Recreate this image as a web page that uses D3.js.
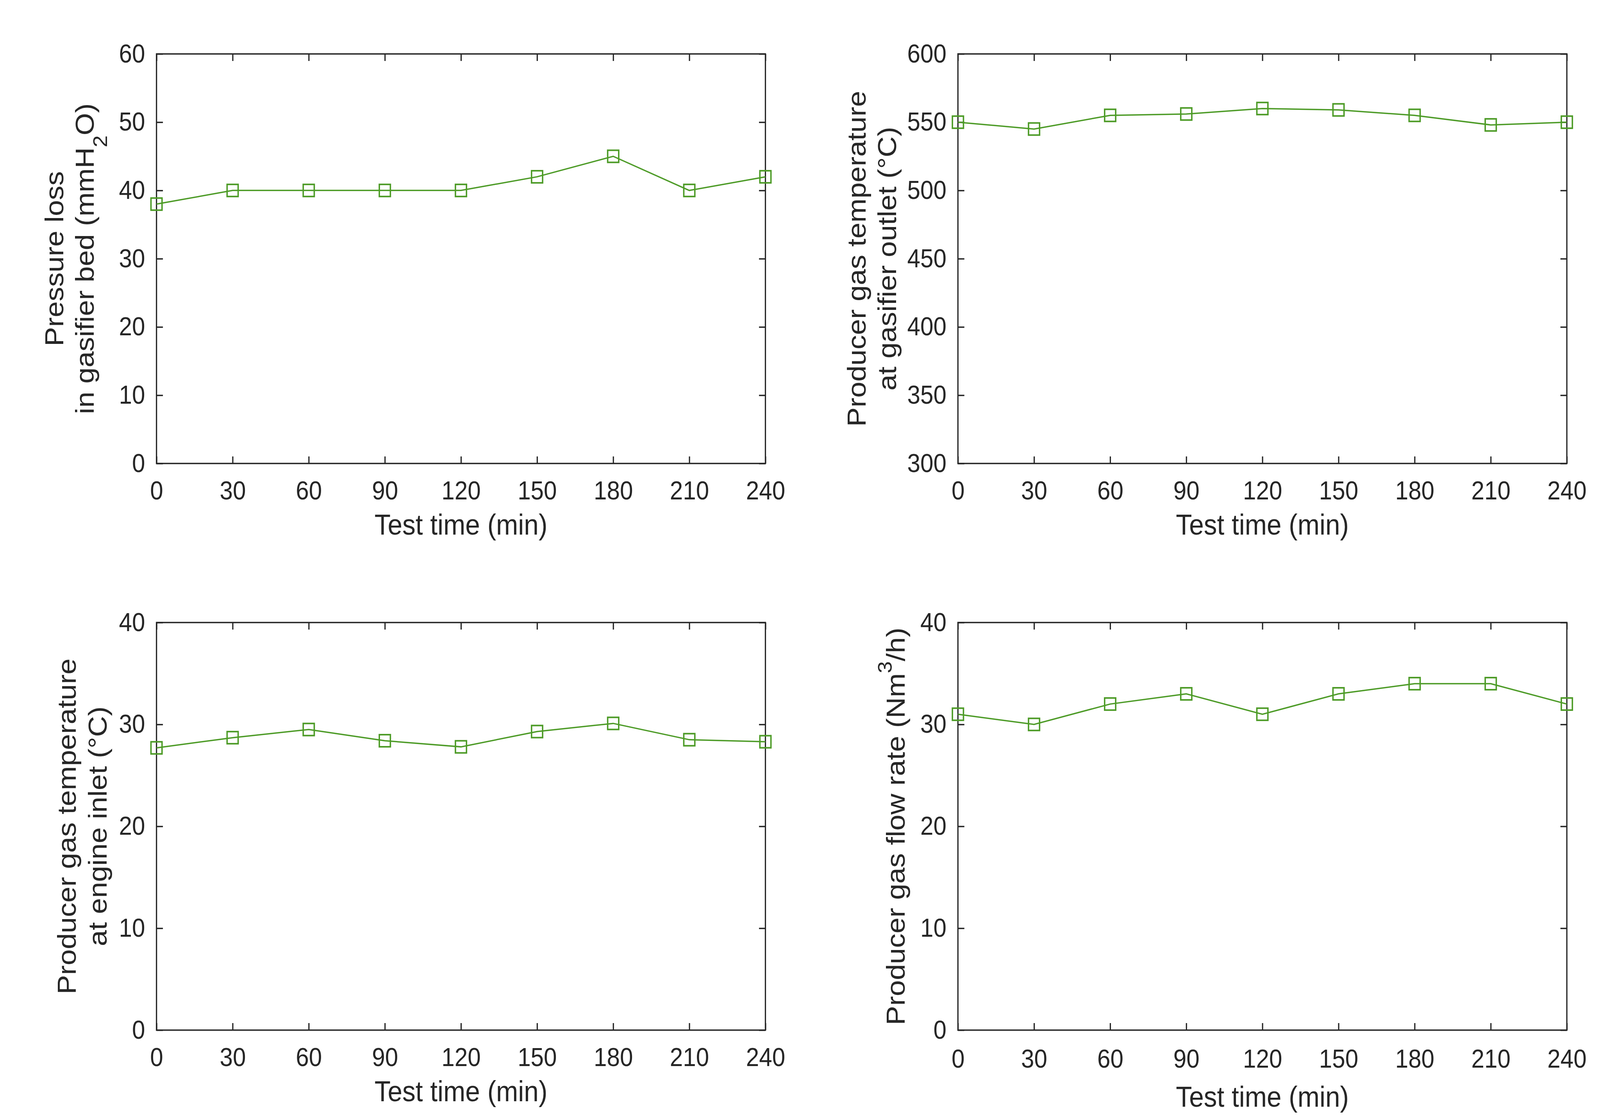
<!DOCTYPE html>
<html>
<head>
<meta charset="utf-8">
<script src="https://cdn.jsdelivr.net/npm/d3@7"></script>
<style>
  html, body { margin: 0; padding: 0; background: #fff; overflow: hidden; }
  #chart { width: 100vw; height: 100vh; }
  svg { display: block; width: 100%; height: 100%; }
  .tick text { font-family: "Liberation Sans", Arial, sans-serif; fill: #262626; }
  .tick line { stroke: #262626; stroke-width: 3.5; }
</style>
</head>
<body>
<div id="chart"></div>
<script>
// data
var testTime = [0, 30, 60, 90, 120, 150, 180, 210, 240];
var pressureLoss = [38, 40, 40, 40, 40, 42, 45, 40, 42];
var outletTemp = [550, 545, 555, 556, 560, 559, 555, 548, 550];
var inletTemp = [27.7, 28.7, 29.5, 28.4, 27.8, 29.3, 30.1, 28.5, 28.3];
var flowRate = [31, 30, 32, 33, 31, 33, 34, 34, 32];

var timeTicks = [0, 30, 60, 90, 120, 150, 180, 210, 240];
var pressureTicks = [0, 10, 20, 30, 40, 50, 60];
var outletTicks = [300, 350, 400, 450, 500, 550, 600];
var inletTicks = [0, 10, 20, 30, 40];
var flowTicks = [0, 10, 20, 30, 40];

var W = 4488, H = 2866;
var axisColor = '#262626';
var lineColor = '#4d9b27';
var font = '"Liberation Sans", Arial, sans-serif';

var panels = [
  { x: 439, y: 138, w: 1708, h: 1048, values: pressureLoss, ticks: pressureTicks,
    label: [[{ t: 'Pressure loss' }],
            [{ t: 'in gasifier bed (mmH' }, { t: '2', sub: true }, { t: 'O)' }]],
    labelX: [177, 263], xlabDy: 0, tickDy: 0 },
  { x: 2687, y: 138, w: 1708, h: 1048, values: outletTemp, ticks: outletTicks,
    label: [[{ t: 'Producer gas temperature' }],
            [{ t: 'at gasifier outlet (\u00B0C)' }]],
    labelX: [2428, 2514], xlabDy: 0, tickDy: 0 },
  { x: 439, y: 1593, w: 1708, h: 1043, values: inletTemp, ticks: inletTicks,
    label: [[{ t: 'Producer gas temperature' }],
            [{ t: 'at engine inlet (\u00B0C)' }]],
    labelX: [213, 299], xlabDy: 0, tickDy: 0 },
  { x: 2687, y: 1593, w: 1708, h: 1043, values: flowRate, ticks: flowTicks,
    label: [[{ t: 'Producer gas flow rate (Nm' }, { t: '3', sup: true }, { t: '/h)' }]],
    labelX: [2538], xlabDy: 14, tickDy: 4 }
];

// the page fills the window; the figure keeps the reference proportions
var svg = d3.select('#chart').append('svg')
  .attr('viewBox', '0 0 ' + W + ' ' + H)
  .attr('preserveAspectRatio', 'none');

svg.append('rect').attr('width', W).attr('height', H).attr('fill', '#fff');

panels.forEach(function(p) {
  var x = d3.scaleLinear().domain([timeTicks[0], timeTicks[timeTicks.length - 1]]).range([0, p.w]);
  var y = d3.scaleLinear().domain([p.ticks[0], p.ticks[p.ticks.length - 1]]).range([p.h, 0]);

  var g = svg.append('g').attr('transform', 'translate(' + p.x + ',' + p.y + ')');

  // ticks point inward on all four sides
  var bottom = g.append('g')
    .attr('transform', 'translate(0,' + p.h + ')')
    .call(d3.axisBottom(x).tickValues(timeTicks).tickSizeInner(-18).tickSizeOuter(0).tickPadding(45 + p.tickDy));
  var top = g.append('g')
    .call(d3.axisTop(x).tickValues(timeTicks).tickSizeInner(-18).tickSizeOuter(0).tickFormat(''));
  var left = g.append('g')
    .call(d3.axisLeft(y).tickValues(p.ticks).tickSizeInner(-18).tickSizeOuter(0).tickPadding(32));
  var right = g.append('g')
    .attr('transform', 'translate(' + p.w + ',0)')
    .call(d3.axisRight(y).tickValues(p.ticks).tickSizeInner(-18).tickSizeOuter(0).tickFormat(''));

  [bottom, top, left, right].forEach(function(a) {
    a.select('.domain').remove();
    a.selectAll('.tick text').style('font-size', '66px');
  });

  g.append('rect')
    .attr('width', p.w)
    .attr('height', p.h)
    .attr('fill', 'none')
    .attr('stroke', axisColor)
    .attr('stroke-width', 3.5);

  var line = d3.line()
    .x(function(d, i) { return x(testTime[i]); })
    .y(function(d) { return y(d); });

  g.append('path')
    .datum(p.values)
    .attr('d', line)
    .attr('fill', 'none')
    .attr('stroke', lineColor)
    .attr('stroke-width', 3.5);

  var s = 31;
  g.selectAll('.marker')
    .data(p.values)
    .enter()
    .append('rect')
    .attr('class', 'marker')
    .attr('x', function(d, i) { return x(testTime[i]) - s / 2; })
    .attr('y', function(d) { return y(d) - s / 2; })
    .attr('width', s)
    .attr('height', s)
    .attr('fill', 'none')
    .attr('stroke', lineColor)
    .attr('stroke-width', 4);

  // x label
  svg.append('text')
    .attr('x', p.x + p.w / 2)
    .attr('y', p.y + p.h + 182 + p.xlabDy)
    .attr('text-anchor', 'middle')
    .style('font-family', font)
    .style('font-size', '74px')
    .style('fill', axisColor)
    .text('Test time (min)');

  // y label, one text per line, rotated
  var cy = p.y + p.h / 2;
  p.label.forEach(function(parts, li) {
    var bx = p.labelX[li];
    var t = svg.append('text')
      .attr('transform', 'translate(' + bx + ',' + cy + ') rotate(-90)')
      .attr('text-anchor', 'middle')
      .style('font-family', font)
      .style('font-size', '74px')
      .style('fill', axisColor);
    var shift = 0;
    parts.forEach(function(part) {
      var want = part.sub ? 37 : (part.sup ? -36 : 0);
      t.append('tspan')
        .attr('dy', want - shift)
        .style('font-size', (part.sub || part.sup) ? '55px' : '74px')
        .text(part.t);
      shift = want;
    });
  });
});
</script>
</body>
</html>
